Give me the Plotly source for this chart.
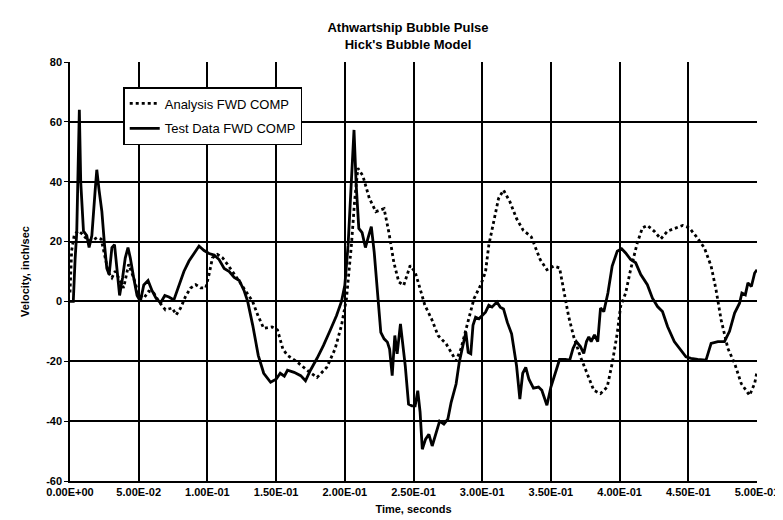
import plotly.graph_objects as go

# ---------------- data ----------------
test_t = [0.0, 0.0024, 0.0037, 0.0049, 0.0068, 0.0078, 0.0098, 0.0122, 0.0139, 0.0159,
          0.0183, 0.0195, 0.0212, 0.0232, 0.0251, 0.0268, 0.0285, 0.0305, 0.0324, 0.0341,
          0.0361, 0.0383, 0.0402, 0.0422, 0.0439, 0.0463, 0.0488, 0.0512, 0.0537, 0.0568,
          0.0598, 0.0627, 0.0659, 0.069, 0.072, 0.0756, 0.0793, 0.0829, 0.0866, 0.0902,
          0.0939, 0.0976, 0.1012, 0.1049, 0.1085, 0.1122, 0.1159, 0.1195, 0.1232, 0.1268,
          0.1293, 0.133, 0.137, 0.141, 0.146, 0.150, 0.153, 0.156, 0.1583, 0.1631,
          0.1679, 0.1714, 0.175, 0.1798, 0.1845, 0.1893, 0.194, 0.1976, 0.2, 0.2024,
          0.2048, 0.2067, 0.2083, 0.2102, 0.2126, 0.215, 0.2174, 0.2193, 0.2214, 0.2238,
          0.2262, 0.2286, 0.231, 0.2326, 0.2345, 0.2364, 0.2381, 0.2405, 0.2421, 0.244,
          0.2464, 0.2488, 0.2512, 0.2531, 0.2548, 0.2564, 0.2588, 0.2612, 0.2636, 0.266,
          0.269, 0.2721, 0.275, 0.2774, 0.281, 0.2833, 0.2857, 0.2881, 0.2898, 0.2917,
          0.2933, 0.2952, 0.2976, 0.3, 0.3024, 0.3048, 0.3071, 0.3107, 0.3131, 0.3155,
          0.3183, 0.3214, 0.325, 0.3274, 0.3295, 0.3317, 0.334, 0.3373, 0.341, 0.3434,
          0.3471, 0.35, 0.3532, 0.3563, 0.3605, 0.3637, 0.3661, 0.3685, 0.3715, 0.3739,
          0.3759, 0.3776, 0.3793, 0.3817, 0.3841, 0.3861, 0.3885, 0.3915, 0.3946, 0.3983,
          0.4015, 0.4044, 0.408, 0.4117, 0.4154, 0.4202, 0.4239, 0.4276, 0.4312, 0.4349,
          0.4398, 0.4446, 0.4483, 0.452, 0.4568, 0.4629, 0.4666, 0.4715, 0.4763, 0.48,
          0.4837, 0.4873, 0.489, 0.4915, 0.4934, 0.4959, 0.4983, 0.5]
test_v = [0.0, 0.0, 14.0, 23.0, 64.0, 40.0, 23.5, 22.0, 18.0, 22.0,
          37.0, 44.0, 37.0, 30.0, 19.0, 11.0, 9.0, 18.0, 19.0, 10.0,
          2.0, 8.0, 14.5, 18.0, 14.5, 8.0, 2.0, 0.0, 5.5, 7.0,
          3.5, 1.0, -0.5, 2.0, 1.5, 0.5, 5.5, 10.0, 13.5, 16.0,
          18.5, 17.0, 16.0, 15.5, 14.0, 11.0, 10.0, 8.0, 7.0, 3.5,
          0.0, -8.0, -18.0, -24.0, -27.0, -26.0, -24.0, -25.0, -23.0, -23.7,
          -24.8, -26.5, -23.0, -19.0, -14.7, -9.7, -4.7, 0.0, 5.4, 18.8,
          41.0, 57.3, 38.9, 24.4, 23.0, 18.0, 22.0, 25.0, 16.5, 4.2,
          -10.3, -12.5, -13.6, -15.9, -24.8, -11.4, -17.5, -7.5, -13.6, -21.5,
          -34.3, -34.9, -34.9, -29.8, -37.0, -49.4, -46.0, -44.4, -48.3, -44.4,
          -40.0, -41.0, -39.3, -33.7, -27.6, -20.3, -14.7, -10.3, -17.0, -17.5,
          -8.0, -5.3, -5.8, -4.7, -3.6, -1.3, -1.9, -0.2, -1.9, -2.5,
          -7.0, -10.8, -21.5, -32.6, -24.0, -22.0, -26.0, -29.0, -28.6, -29.7,
          -34.7, -28.6, -23.5, -19.4, -19.4, -19.6, -15.7, -13.4, -15.1, -17.4,
          -13.4, -11.8, -13.4, -11.2, -13.4, -2.2, -3.4, 2.8, 11.8, 16.8,
          17.6, 16.2, 14.0, 12.9, 9.0, 5.6, 1.1, -1.7, -3.4, -8.4,
          -13.4, -16.2, -18.5, -19.0, -19.4, -19.6, -14.0, -13.4, -13.4, -10.0,
          -3.9, -0.6, 2.8, 2.2, 6.2, 5.0, 9.5, 10.6]

analysis_t = [0.0, 0.0012, 0.0032, 0.0061, 0.009, 0.0122, 0.0159, 0.0195, 0.0227, 0.0256,
              0.028, 0.0305, 0.0329, 0.0354, 0.039, 0.0427, 0.0463, 0.05, 0.0537, 0.0573,
              0.061, 0.0646, 0.0695, 0.0744, 0.0773, 0.0805, 0.0841, 0.0878, 0.0915, 0.0951,
              0.0988, 0.1012, 0.1037, 0.1073, 0.111, 0.1146, 0.1183, 0.1232, 0.128, 0.1329,
              0.1366, 0.141, 0.147, 0.151, 0.155, 0.1583, 0.1655, 0.1726, 0.1798, 0.1869,
              0.1929, 0.1976, 0.2012, 0.2048, 0.2071, 0.2095, 0.2131, 0.2179, 0.2226, 0.2286,
              0.2321, 0.2357, 0.2393, 0.2429, 0.2476, 0.2512, 0.2548, 0.2583, 0.2631, 0.2679,
              0.2738, 0.2774, 0.281, 0.2845, 0.2893, 0.294, 0.2988, 0.3024, 0.3048, 0.3083,
              0.3119, 0.3155, 0.3202, 0.325, 0.3298, 0.3357, 0.3373, 0.3422, 0.3471, 0.352,
              0.3563, 0.3593, 0.3629, 0.3666, 0.3715, 0.3763, 0.3812, 0.3861, 0.391, 0.3946,
              0.3983, 0.4007, 0.4044, 0.408, 0.4129, 0.4166, 0.4202, 0.4251, 0.43, 0.4349,
              0.441, 0.4459, 0.4507, 0.4556, 0.4617, 0.4666, 0.4702, 0.4739, 0.4788, 0.4837,
              0.4885, 0.4946, 0.4983, 0.5]
analysis_v = [3.0, 17.0, 22.5, 23.6, 22.5, 20.8, 20.2, 21.3, 20.8, 14.6,
              9.6, 7.9, 10.1, 7.9, 4.5, 12.4, 7.9, 2.2, 1.1, 3.4,
              2.8, 0.0, -2.8, -2.2, -4.5, -2.2, 1.7, 4.5, 5.6, 4.5,
              4.5, 9.0, 14.6, 15.7, 14.6, 12.4, 10.1, 6.7, 3.4, 0.0,
              -4.5, -9.0, -8.5, -9.5, -16.0, -18.0, -20.3, -23.0, -25.4, -22.0,
              -15.9, -8.0, 0.9, 18.8, 33.3, 44.5, 42.0, 34.4, 30.0, 31.0,
              23.0, 13.0, 6.5, 5.4, 12.0, 9.8, 4.2, -1.3, -5.8, -11.4,
              -14.2, -17.0, -19.8, -15.9, -6.9, 0.9, 5.4, 9.8, 18.8, 26.6,
              34.4, 37.2, 33.3, 27.7, 23.8, 21.6, 19.6, 14.0, 10.6, 11.8,
              11.2, 3.9, -5.0, -11.8, -18.5, -24.0, -29.7, -30.8, -28.6, -20.7,
              -10.6, -1.7, 2.8, 10.6, 19.6, 24.6, 25.4, 23.5, 20.9, 23.5,
              24.6, 25.4, 24.6, 21.8, 17.9, 11.8, 3.9, -6.2, -15.7, -20.7,
              -27.4, -31.4, -27.4, -23.5]

x_ticks = [0.0, 0.05, 0.10, 0.15, 0.20, 0.25, 0.30, 0.35, 0.40, 0.45, 0.50]
x_tick_labels = ["0.00E+00", "5.00E-02", "1.00E-01", "1.50E-01", "2.00E-01", "2.50E-01",
                 "3.00E-01", "3.50E-01", "4.00E-01", "4.50E-01", "5.00E-01"]
y_ticks = [-60, -40, -20, 0, 20, 40, 60, 80]
y_tick_labels = ["-60", "-40", "-20", "0", "20", "40", "60", "80"]

FONT = "Liberation Sans, Arial, sans-serif"

fig = go.Figure()
fig.add_trace(go.Scatter(
    x=analysis_t, y=analysis_v, mode="lines", name="Analysis FWD COMP",
    legendgroup="a",
    line=dict(color="black", width=2.8, dash="3px,3px"),
))
fig.add_trace(go.Scatter(
    x=test_t, y=test_v, mode="lines", name="Test Data FWD COMP",
    legendgroup="b",
    line=dict(color="black", width=2.8),
))

fig.update_layout(
    width=783, height=520,
    paper_bgcolor="white", plot_bgcolor="white",
    margin=dict(l=62, r=24, t=54, b=47),
    title=dict(
        text="Athwartship Bubble Pulse<br>Hick's Bubble Model",
        x=400 / 783, xanchor="center", xref="container",
        y=1 - 24 / 520, yanchor="middle", yref="container",
        font=dict(family=FONT, size=13, color="black", weight="bold"),
    ),
    font=dict(family=FONT, color="black"),
    showlegend=True,
    legend=dict(
        x=(116 - 62) / 697, y=(473 - 79) / 419, xanchor="left", yanchor="top",
        bgcolor="white", bordercolor="black", borderwidth=1.5,
        font=dict(family=FONT, size=13, color="black"),
        traceorder="grouped", tracegroupgap=5, itemwidth=30,
    ),
    xaxis=dict(
        range=[0, 0.5], tickvals=x_ticks, ticktext=x_tick_labels,
        showgrid=True, gridcolor="black", gridwidth=1.5,
        showline=True, linecolor="black", linewidth=1.5,
        ticks="inside", ticklen=5, tickcolor="black",
        zeroline=False,
        tickfont=dict(family=FONT, size=11, color="black", weight="bold"),
        title=dict(text="Time, seconds", standoff=8,
                   font=dict(family=FONT, size=11, color="black", weight="bold")),
    ),
    yaxis=dict(
        range=[-60, 80], tickvals=y_ticks, ticktext=y_tick_labels,
        showgrid=True, gridcolor="black", gridwidth=1.5,
        showline=True, linecolor="black", linewidth=1.5,
        ticks="outside", ticklen=4, tickcolor="black",
        zeroline=False,
        tickfont=dict(family=FONT, size=11, color="black", weight="bold"),
        title=dict(text="Velocity, inch/sec", standoff=14,
                   font=dict(family=FONT, size=11, color="black", weight="bold")),
    ),
)

fig.write_html("out.html")
